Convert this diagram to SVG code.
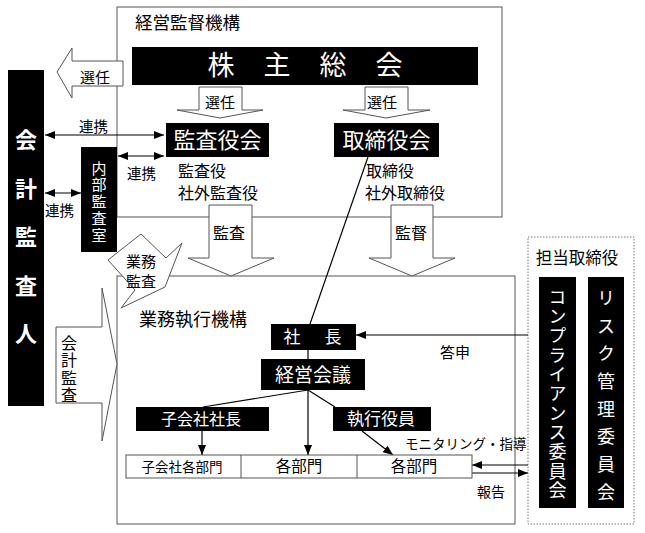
<svg xmlns="http://www.w3.org/2000/svg" width="645" height="533" viewBox="0 0 645 533">
<style>
text{font-family:"Noto Sans CJK JP","Noto Sans",sans-serif;fill:#000}
.w{fill:#fff}
.frame{fill:none;stroke:#555;stroke-width:1}
.blk{fill:#000;stroke:none}
.barrow{fill:#fff;stroke:#555;stroke-width:1}
.ln{fill:none;stroke:#000;stroke-width:1.2}
.c{text-anchor:middle}
.v{writing-mode:vertical-rl;text-orientation:upright}
</style>
<defs>
<marker id="ah" markerUnits="userSpaceOnUse" viewBox="0 0 10 8" refX="10" refY="4" markerWidth="10" markerHeight="8" orient="auto-start-reverse">
<path d="M0,0 L10,4 L0,8 z" fill="#000"/>
</marker>
</defs>
<rect width="645" height="533" fill="#fff"/>

<g id="upper-frame">
<rect class="frame" x="117" y="7" width="385" height="210"/>
<text x="135" y="29" font-size="17.5">経営監督機構</text>
</g>
<g id="lower-frame">
<rect class="frame" x="117" y="276" width="398" height="248"/>
<text x="139" y="326" font-size="18">業務執行機構</text>
</g>
<g id="tanto-frame">
<rect x="528" y="237" width="106" height="287" fill="none" stroke="#777" stroke-width="1" stroke-dasharray="1.5,1.5"/>
<text x="577" y="264" font-size="16.5" class="c">担当取締役</text>
</g>

<g id="connectors">
<polygon class="barrow" points="123,61 72,61 72,48 57,72 72,98 72,86 123,86"/>
<text x="80" y="83" font-size="15">選任</text>
<polygon class="barrow" points="199,87 242,87 242,110 263,110 220,118 177,110 199,110"/>
<text x="205" y="108" font-size="15">選任</text>
<polygon class="barrow" points="365,87 408,87 408,110 430,110 386,118 343,110 365,110"/>
<text x="367" y="108" font-size="15">選任</text>
<polygon class="barrow" points="209,205 252,205 252,258 274,258 231,276 188,258 209,258"/>
<text x="213" y="239" font-size="16">監査</text>
<polygon class="barrow" points="391,205 433,205 433,258 455,258 412,276 369,258 391,258"/>
<text x="395" y="239" font-size="16">監督</text>
<polygon class="barrow" points="56,327 102,327 102,288 117,364 102,441 102,403 56,403"/>
<text class="v" x="69" y="335" font-size="16" letter-spacing="1.3">会計監査</text>
<polygon class="barrow" points="141,234 166,258 182,243 165,287 121,308 135,290 108,260"/>
<text x="126" y="267" font-size="15">業務</text>
<text x="126" y="287" font-size="15">監査</text>

<line class="ln" x1="45" y1="135" x2="164" y2="135" marker-start="url(#ah)" marker-end="url(#ah)"/>
<text x="79" y="132" font-size="14.5">連携</text>
<line class="ln" x1="118" y1="156" x2="164" y2="156" marker-start="url(#ah)" marker-end="url(#ah)"/>
<text x="127" y="179" font-size="14.5">連携</text>
<line class="ln" x1="45" y1="193" x2="81" y2="193" marker-start="url(#ah)" marker-end="url(#ah)"/>
<text x="45" y="216" font-size="14.5">連携</text>

<line class="ln" x1="368" y1="157" x2="310" y2="324"/>
<line class="ln" x1="308" y1="350" x2="308" y2="359"/>
<line class="ln" x1="308" y1="390" x2="203" y2="407"/>
<line class="ln" x1="308" y1="390" x2="335" y2="407"/>
<line class="ln" x1="308" y1="390" x2="308" y2="455" marker-end="url(#ah)"/>
<line class="ln" x1="202" y1="431" x2="202" y2="455" marker-end="url(#ah)"/>
<line class="ln" x1="362" y1="431" x2="393" y2="455" marker-end="url(#ah)"/>
<line class="ln" x1="528" y1="335" x2="356" y2="335" marker-end="url(#ah)"/>
<text x="440" y="358" font-size="15">答申</text>
<line class="ln" x1="528" y1="465" x2="472" y2="465" marker-end="url(#ah)"/>
<text x="405" y="449" font-size="13.5">モニタリング・指導</text>
<line class="ln" x1="472" y1="473" x2="528" y2="473" marker-end="url(#ah)"/>
<text x="477" y="497" font-size="14">報告</text>
</g>

<g id="kabunushi">
<rect class="blk" x="132" y="47" width="346" height="38"/>
<text font-size="27" class="w c"><tspan x="221" y="75">株</tspan><tspan x="277" y="75">主</tspan><tspan x="333" y="75">総</tspan><tspan x="389" y="75">会</tspan></text>
</g>
<g id="kansayakukai">
<rect class="blk" x="166" y="123" width="103" height="34"/>
<text x="217.5" y="148" font-size="22" class="w c">監査役会</text>
<text x="178" y="177" font-size="16">監査役</text>
<text x="178" y="199" font-size="16">社外監査役</text>
</g>
<g id="torishimariyakukai">
<rect class="blk" x="334" y="123" width="105" height="34"/>
<text x="386.5" y="148" font-size="22" class="w c">取締役会</text>
<text x="366" y="177" font-size="16">取締役</text>
<text x="365" y="199" font-size="16">社外取締役</text>
</g>
<g id="kaikei-kansanin">
<rect class="blk" x="8" y="70" width="36" height="336"/>
<text class="v w" x="26" y="129" font-size="22" font-weight="bold" letter-spacing="26.5">会計監査人</text>
</g>
<g id="naibu-kansa">
<rect class="blk" x="81" y="147" width="36" height="105"/>
<text class="v w" x="99" y="160.5" font-size="15" letter-spacing="1.75">内部監査室</text>
</g>
<g id="shacho">
<rect class="blk" x="271" y="324" width="85" height="26"/>
<text font-size="17" class="w c"><tspan x="292" y="343">社</tspan><tspan x="333" y="343">長</tspan></text>
</g>
<g id="keiei-kaigi">
<rect class="blk" x="261" y="359" width="104" height="31"/>
<text x="313" y="382" font-size="19" class="w c">経営会議</text>
</g>
<g id="kogaisha-shacho">
<rect class="blk" x="136" y="407" width="133" height="24"/>
<text x="201" y="425" font-size="16" class="w c">子会社社長</text>
</g>
<g id="shikko-yakuin">
<rect class="blk" x="333" y="407" width="98" height="24"/>
<text x="381" y="425" font-size="17" class="w c">執行役員</text>
</g>
<g id="bumon">
<rect x="126" y="455" width="346" height="23" fill="#fff" stroke="#555" stroke-width="1"/>
<line x1="241" y1="455" x2="241" y2="478" stroke="#555" stroke-width="1"/>
<line x1="357" y1="455" x2="357" y2="478" stroke="#555" stroke-width="1"/>
<text x="182" y="472" font-size="13.5" class="c">子会社各部門</text>
<text x="299" y="472" font-size="15.5" class="c">各部門</text>
<text x="414" y="472" font-size="15.5" class="c">各部門</text>
</g>
<g id="compliance">
<rect class="blk" x="539" y="277" width="37" height="231"/>
<text class="v w" x="557.5" y="288" font-size="18" letter-spacing="1.3">コンプライアンス委員会</text>
</g>
<g id="risk">
<rect class="blk" x="588" y="277" width="36" height="231"/>
<text class="v w" x="606" y="289" font-size="18" letter-spacing="9.7">リスク管理委員会</text>
</g>
</svg>
